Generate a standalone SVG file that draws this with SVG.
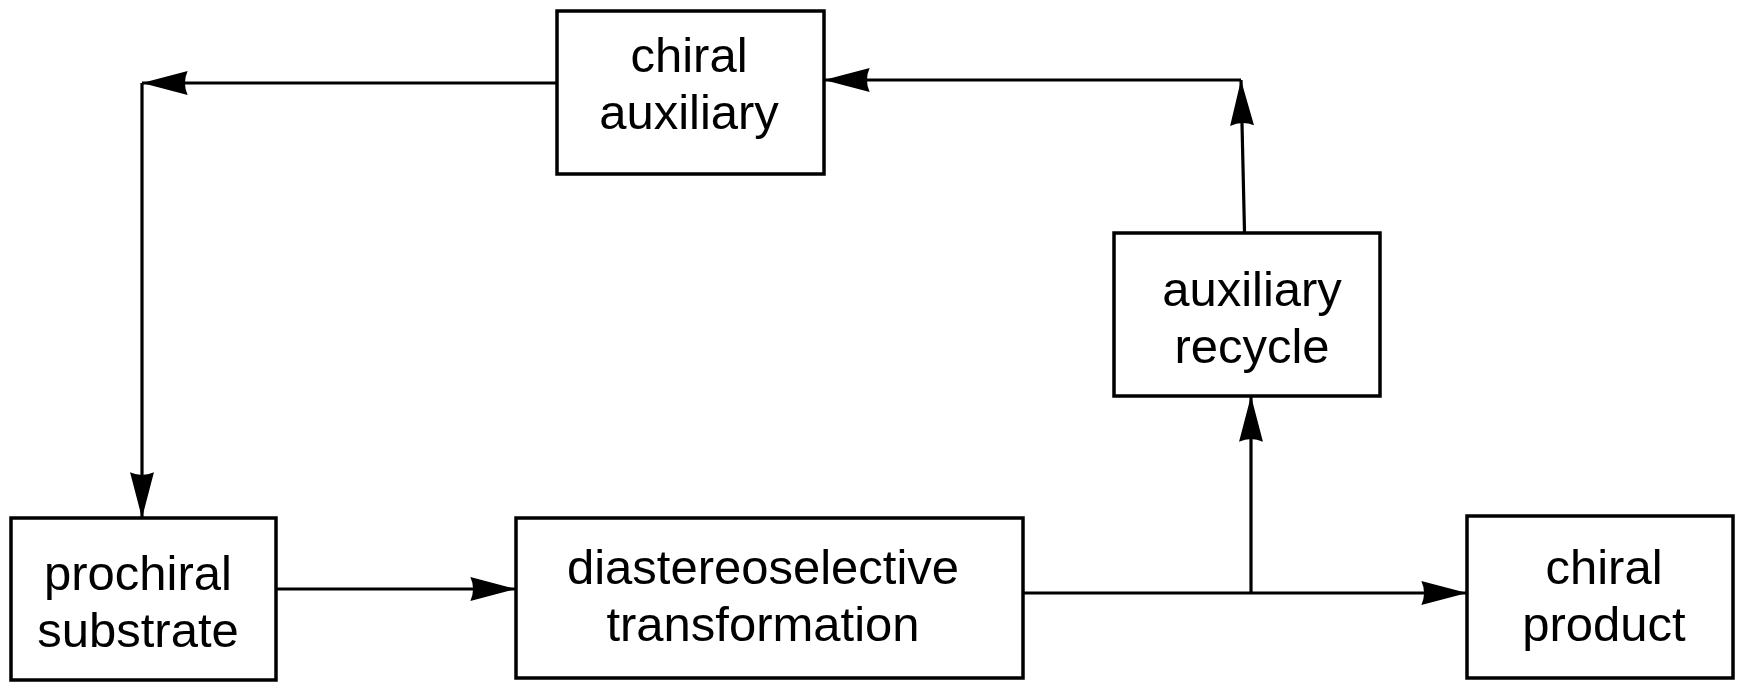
<svg xmlns="http://www.w3.org/2000/svg" width="1745" height="692" viewBox="0 0 1745 692">
<style>
.box{fill:#fff;stroke:#000;stroke-width:3.5}
.lbl{font-family:"Liberation Sans",Arial,sans-serif;font-size:49px;fill:#000;text-anchor:middle}
.con{fill:none;stroke:#000;stroke-width:3.2;marker-end:url(#ah)}
</style>
<defs>
<marker id="ah" markerUnits="userSpaceOnUse" markerWidth="50" markerHeight="30" viewBox="-44 -13 46 26" refX="0" refY="0" orient="auto">
<path d="M0,0 L-42,-11 Q-37,0 -42,11 Z" fill="#000"/>
</marker>
</defs>
<rect width="1745" height="692" fill="#fff"/>
<g id="connectors">
<path class="con" d="M557,83 H142"/>
<path class="con" d="M142,83 V518"/>
<path class="con" d="M1244.5,232 L1241,80"/>
<path class="con" d="M1241,80 H824"/>
<path class="con" d="M276,589 H516"/>
<path class="con" d="M1023,593 H1467"/>
<path class="con" d="M1251,594 V396"/>
</g>
<g id="chiral-auxiliary">
<rect class="box" x="557" y="11" width="267" height="163"/>
<text class="lbl" x="689" y="72">chiral</text>
<text class="lbl" x="689" y="129">auxiliary</text>
</g>
<g id="auxiliary-recycle">
<rect class="box" x="1114" y="233" width="266" height="163"/>
<text class="lbl" x="1252" y="306">auxiliary</text>
<text class="lbl" x="1252" y="363">recycle</text>
</g>
<g id="prochiral-substrate">
<rect class="box" x="11" y="518" width="265" height="162"/>
<text class="lbl" x="138" y="590">prochiral</text>
<text class="lbl" x="138" y="647">substrate</text>
</g>
<g id="diastereoselective-transformation">
<rect class="box" x="516" y="518" width="507" height="160"/>
<text class="lbl" x="763" y="584">diastereoselective</text>
<text class="lbl" x="763" y="641">transformation</text>
</g>
<g id="chiral-product">
<rect class="box" x="1467" y="516" width="266" height="162"/>
<text class="lbl" x="1604" y="584">chiral</text>
<text class="lbl" x="1604" y="641">product</text>
</g>
</svg>
